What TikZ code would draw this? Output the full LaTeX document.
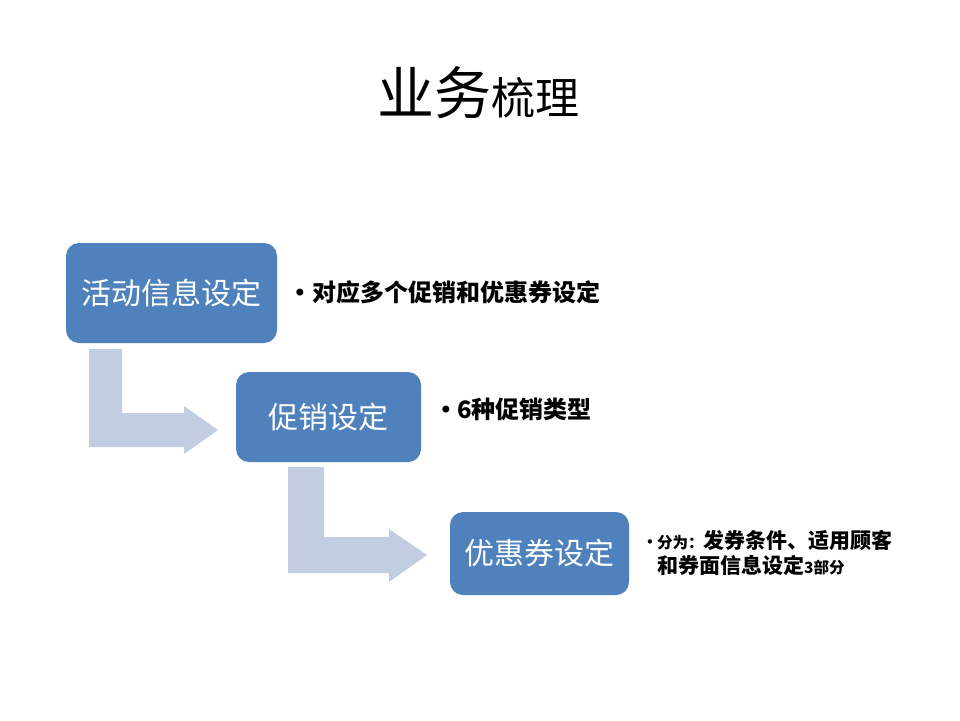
\documentclass[tikz,border=0pt]{standalone}
\usepackage{fontspec}
\setmainfont{Noto Sans CJK SC}
\newfontfamily\cjk{Noto Sans CJK SC}
\newfontfamily\dejavu{DejaVu Sans}
\definecolor{boxblue}{RGB}{79,129,189}
\definecolor{arrowc}{RGB}{194,205,226}
\begin{document}
\begin{tikzpicture}[x=1pt,y=-1pt,
  stagebox/.style={fill=boxblue, rounded corners=13pt, text=white, inner sep=0pt,
    font=\cjk\fontsize{30}{36}\selectfont},
  bullettext/.style={anchor=west, inner sep=0pt, text=black,
    font=\cjk\bfseries\fontsize{24}{28}\selectfont},
  bulletdot/.style={inner sep=0pt, text=black, font=\dejavu\fontsize{24}{28}\selectfont},
  bendarrow/.style={fill=arrowc}]
\useasboundingbox (0,0) rectangle (960,720);
\fill[white] (0,0) rectangle (960,720);
% title
\node[inner sep=0pt] (title) at (478,93)
  {{\fontsize{57}{60}\selectfont 业务}{\fontsize{44}{50}\selectfont 梳理}};
% bent arrows
\fill[bendarrow] (89,349) -- (122,349) -- (122,413) -- (184,413) -- (184,406)
  -- (218,430) -- (184,454) -- (184,447) -- (89,447) -- cycle;
\fill[bendarrow] (288,467) -- (324,467) -- (324,537) -- (389,537) -- (389,529)
  -- (427,555) -- (389,582) -- (389,573) -- (288,573) -- cycle;
% boxes
\node[stagebox, minimum width=211pt, minimum height=100pt] (b1) at (171.5,293) {活动信息设定};
\node[stagebox, minimum width=185pt, minimum height=90pt] (b2) at (328.5,417) {促销设定};
\node[stagebox, minimum width=179pt, minimum height=83pt] (b3) at (539.5,553.5) {优惠券设定};
% bullet texts
\node[bulletdot] (d1) at (300,295) {•};
\node[bullettext] (t1) at (312,292) {对应多个促销和优惠券设定};
\node[bulletdot] (d2) at (446,412) {•};
\node[bullettext] (t2) at (457,409) {6种促销类型};
\node[bulletdot, font=\dejavu\fontsize{15}{18}\selectfont] (d3) at (650,544) {•};
\node[anchor=north west, inner sep=0pt, align=left,
  font=\cjk\bfseries\fontsize{21}{25}\selectfont] (t3) at (657,530)
  {{\fontsize{15.5}{25}\selectfont 分为：}发券条件、适用顾客\\
   和券面信息设定{\fontsize{15.5}{25}\selectfont 3部分}};
\end{tikzpicture}
\end{document}
